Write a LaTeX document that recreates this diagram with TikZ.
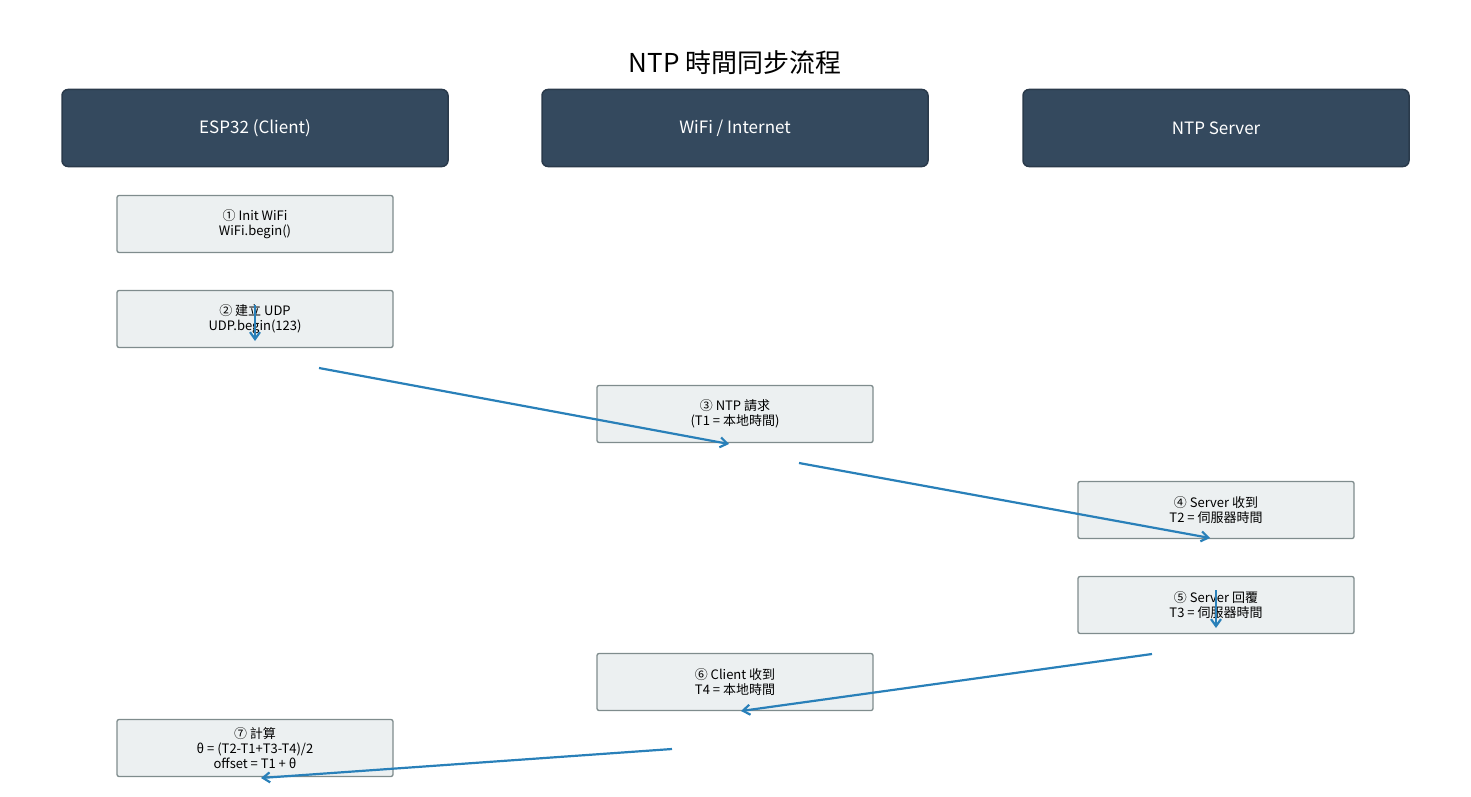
\documentclass[tikz,border=0pt]{standalone}
\usepackage{fontspec}
\setmainfont{Noto Sans CJK TC}
\usetikzlibrary{arrows.meta}
\definecolor{hdr}{HTML}{34495E}
\definecolor{stepfill}{HTML}{ECF0F1}
\definecolor{stepdraw}{HTML}{7F8C8D}
\definecolor{arr}{HTML}{2980B9}
\begin{document}
\begin{tikzpicture}[x=1pt,y=-1pt,
  hdrbox/.style={draw=hdr!80!black,line width=1.5pt,fill=hdr,rounded corners=6pt,minimum width=386pt,minimum height=77pt,text=white,font=\fontsize{17}{20}\selectfont},
  stepbox/.style={draw=stepdraw,line width=1.3pt,fill=stepfill,rounded corners=2pt,minimum width=276pt,minimum height=57pt,align=center,font=\fontsize{13}{15}\selectfont,inner sep=1pt},
  flow/.style={draw=arr,line width=2.2pt,-{Straight Barb[length=7pt,width=10pt]}}]
\useasboundingbox (0,0) rectangle (1471,797);
\node (title) at (735,63) {\fontsize{26}{30}\selectfont NTP 時間同步流程};
\node[hdrbox] (h1) at (255,128) {ESP32 (Client)};
\node[hdrbox] (h2) at (735,128) {WiFi / Internet};
\node[hdrbox] (h3) at (1216,128) {NTP Server};
\node[stepbox] (s1) at (255,224) {① Init WiFi\\WiFi.begin()};
\node[stepbox] (s2) at (255,319) {② 建立 UDP\\UDP.begin(123)};
\node[stepbox] (s3) at (735,414) {③ NTP 請求\\(T1 = 本地時間)};
\node[stepbox] (s4) at (1216,510) {④ Server 收到\\T2 = 伺服器時間};
\node[stepbox] (s5) at (1216,605) {⑤ Server 回覆\\T3 = 伺服器時間};
\node[stepbox] (s6) at (735,682) {⑥ Client 收到\\T4 = 本地時間};
\node[stepbox] (s7) at (255,748) {⑦ 計算\\θ = (T2-T1+T3-T4)/2\\offset = T1 + θ};
\coordinate (a1) at (255,305); \coordinate (b1) at (255,341);
\coordinate (a2) at (319,368); \coordinate (b2) at (729,444);
\coordinate (a3) at (799,463); \coordinate (b3) at (1210,538);
\coordinate (a4) at (1216,590); \coordinate (b4) at (1216,628);
\coordinate (a5) at (1152,654); \coordinate (b5) at (741,711);
\coordinate (a6) at (672,749); \coordinate (b6) at (261,778);
\foreach \i in {1,...,6} \draw[flow] (a\i) -- (b\i);
\end{tikzpicture}
\end{document}
